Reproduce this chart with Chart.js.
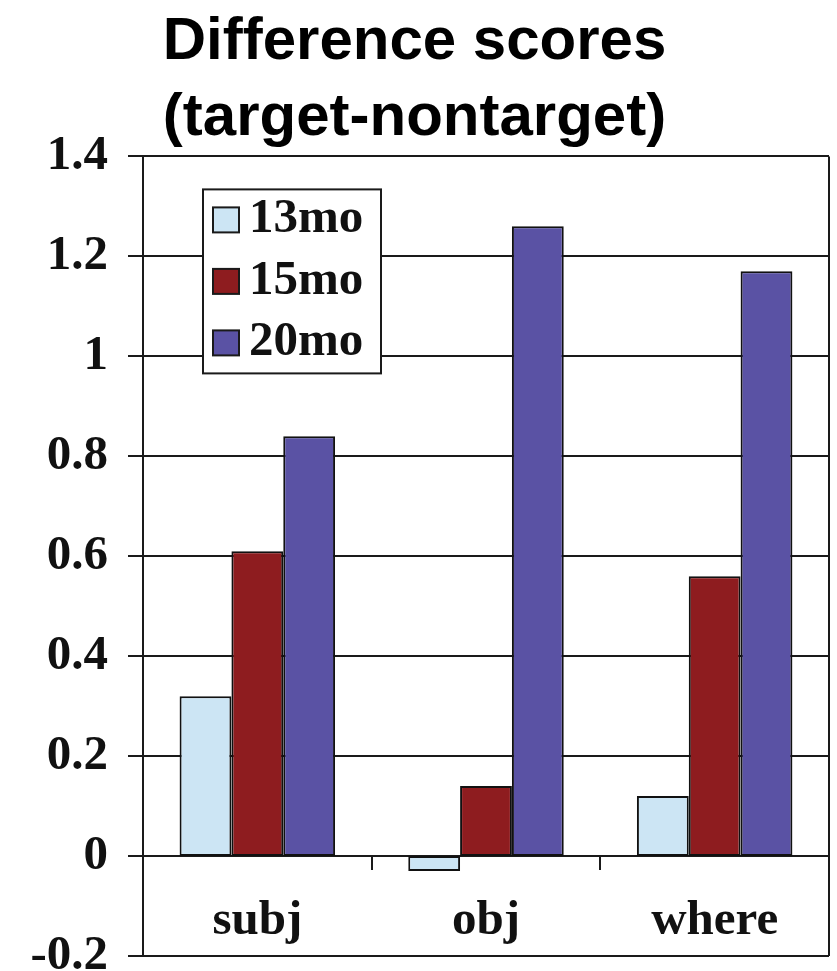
<!DOCTYPE html>
<html>
<head>
<meta charset="utf-8">
<script src="https://cdn.jsdelivr.net/npm/chart.js@4.4.1/dist/chart.umd.min.js"></script>
<style>
  body { margin: 0; background: #fff; }
  #wrap { width: 837px; height: 971px; }
</style>
</head>
<body>
<div id="wrap"><canvas id="myChart" width="837" height="971"></canvas></div>
<script>
// data
const categories = ['subj', 'obj', 'where'];
const seriesNames = ['13mo', '15mo', '20mo'];
const scores13mo = [0.32, -0.03, 0.12];
const scores15mo = [0.61, 0.14, 0.56];
const scores20mo = [0.84, 1.26, 1.17];
const yTickLabels = ['-0.2', '0', '0.2', '0.4', '0.6', '0.8', '1', '1.2', '1.4'];
const seriesColors = ['#cce5f4', '#8e1c1f', '#5a52a4'];

const serif = 'Liberation Serif';
const ink = '#1a1a1a';

// little legend box sitting inside the plot, plus the right-hand frame line
const boxLegend = {
    id: 'boxLegend',
    afterDraw(chart) {
        const ctx = chart.ctx;
        const area = chart.chartArea;

        ctx.save();
        ctx.strokeStyle = ink;
        ctx.lineWidth = 2;
        ctx.beginPath();
        ctx.moveTo(area.right, area.top);
        ctx.lineTo(area.right, area.bottom);
        ctx.stroke();

        const x = area.left + 60;
        const y = area.top + 33;
        ctx.fillStyle = '#fff';
        ctx.fillRect(x, y, 178, 184);
        ctx.strokeRect(x, y, 178, 184);

        ctx.font = 'bold 49px "' + serif + '"';
        ctx.textBaseline = 'alphabetic';
        chart.data.datasets.forEach(function(ds, i) {
            const top = y + 18 + i * 61.5;
            ctx.fillStyle = ds.backgroundColor;
            ctx.fillRect(x + 10, top, 26, 25);
            ctx.lineWidth = 2;
            ctx.strokeRect(x + 10, top, 26, 25);
            ctx.fillStyle = '#111';
            ctx.fillText(ds.label, x + 46, top + 25);
        });
        ctx.restore();
    }
};

const datasets = [scores13mo, scores15mo, scores20mo].map(function(vals, i) {
    return {
        label: seriesNames[i],
        data: vals,
        backgroundColor: seriesColors[i],
        borderColor: '#111',
        borderWidth: 2,
        borderSkipped: false,
        categoryPercentage: 0.68,
        barPercentage: 1.0
    };
});

const ctx = document.getElementById('myChart').getContext('2d');
const chart = new Chart(ctx, {
    type: 'bar',
    data: { labels: categories, datasets: datasets },
    options: {
        responsive: false,
        animation: false,
        layout: { padding: { left: 0, right: 8, top: 0, bottom: 15 } },
        plugins: {
            legend: { display: false },
            tooltip: { enabled: false },
            title: {
                display: true,
                text: ['Difference scores', '(target-nontarget)'],
                color: '#000',
                font: { family: 'Liberation Sans', weight: 'bold', size: 60, lineHeight: 1.27 },
                padding: { top: 4, bottom: 0 }
            }
        },
        scales: {
            x: {
                position: { y: 0 },
                grid: { offset: true, drawOnChartArea: false, tickLength: 14, color: ink, lineWidth: 2 },
                border: { display: false },
                ticks: {
                    padding: 22,
                    color: '#111',
                    font: { family: serif, weight: 'bold', size: 49 }
                }
            },
            y: {
                min: -0.2,
                max: 1.4,
                afterFit: function(scale) {
                    // fixed axis width, and let the end labels overhang the frame
                    scale.width = 143;
                    scale.paddingTop = 0;
                    scale.paddingBottom = 0;
                },
                ticks: {
                    stepSize: 0.2,
                    padding: 20,
                    color: '#111',
                    font: { family: serif, weight: 'bold', size: 49 },
                    callback: function(value, index) { return yTickLabels[index]; }
                },
                grid: { color: ink, lineWidth: 2, tickLength: 15 },
                border: { display: true, color: ink, width: 2 }
            }
        }
    },
    plugins: [boxLegend]
});
</script>
</body>
</html>
